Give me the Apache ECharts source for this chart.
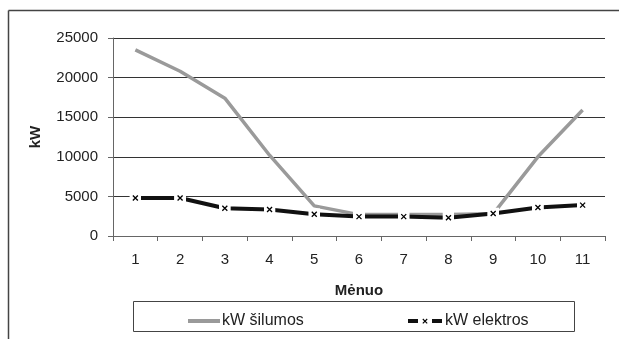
<!DOCTYPE html>
<html><head><meta charset="utf-8">
<script src="https://cdn.jsdelivr.net/npm/echarts@6/dist/echarts.min.js"></script>
<style>html,body{margin:0;padding:0;background:#fff}#c{width:619px;height:339px}</style>
</head><body><div id="c"></div>
<script>
const months = ['1','2','3','4','5','6','7','8','9','10','11'];
const silumos = [23500, 20800, 17400, 10200, 3800, 2700, 2700, 2700, 2800, 10000, 15900];
const elektros = [4800, 4800, 3500, 3350, 2750, 2450, 2450, 2300, 2850, 3600, 3900];
const yTicks = [0, 5000, 10000, 15000, 20000, 25000];

const enc = s => 'image://data:image/svg+xml;utf8,' + encodeURIComponent(s);
const xSvg = enc('<svg xmlns="http://www.w3.org/2000/svg" width="12" height="12"><rect width="12" height="12" fill="white"/><path d="M3.5 3.5L8.5 8.5M8.5 3.5L3.5 8.5" stroke="black" stroke-width="1.3"/></svg>');
const legSvg = enc('<svg xmlns="http://www.w3.org/2000/svg" width="34" height="10"><rect x="0" y="3" width="10" height="4" fill="#111"/><rect x="24" y="3" width="10" height="4" fill="#111"/><path d="M14.8 3L19.2 7.4M19.2 3L14.8 7.4" stroke="black" stroke-width="1.1"/></svg>');
const font = 'Liberation Sans, Arial, sans-serif';
const chart = echarts.init(document.getElementById('c'));
chart.setOption({
  animation: false,
  grid: {left: 113, right: 14, top: 38, bottom: 103},
  graphic: [
    {type:'line', shape:{x1:8.5,y1:10.5,x2:619,y2:10.5}, style:{stroke:'#444',lineWidth:1.5}},
    {type:'line', shape:{x1:8.5,y1:10.5,x2:8.5,y2:339}, style:{stroke:'#444',lineWidth:1.5}},
    {type:'rect', shape:{x:133.5,y:301.5,width:441,height:30}, style:{fill:'#fff',stroke:'#444',lineWidth:1}, z:0}
  ],
  legend: [
    {left: 183, top: 308, itemWidth: 32, itemHeight: 4, itemGap: 0,
     textStyle: {fontFamily: font, fontSize: 16, color: '#222', padding: [0,0,0,-3]},
     data: [{name: 'kW šilumos', icon: 'rect'}]},
    {left: 403, top: 308, itemWidth: 34, itemHeight: 10, itemGap: 0,
     textStyle: {fontFamily: font, fontSize: 16, color: '#222', padding: [0,0,0,-2]},
     data: [{name: 'kW elektros', icon: legSvg}]}
  ],
  xAxis: {
    type: 'category', data: months, boundaryGap: true,
    name: 'Mėnuo', nameLocation: 'middle', nameGap: 47,
    nameTextStyle: {fontFamily: font, fontSize: 15, fontWeight: 'bold', color: '#222'},
    axisLine: {lineStyle: {color: '#666', width: 1}},
    axisTick: {show: true, length: 5, inside: false, lineStyle: {color: '#666'}},
    axisLabel: {fontFamily: font, fontSize: 15, color: '#222', margin: 16}
  },
  yAxis: {
    type: 'value', min: 0, max: 25000, interval: 5000,
    name: 'kW', nameLocation: 'middle', nameGap: 70, nameRotate: 90,
    nameTextStyle: {fontFamily: font, fontSize: 15, fontWeight: 'bold', color: '#222'},
    axisLine: {show: true, lineStyle: {color: '#666', width: 1}},
    axisTick: {show: true, length: 5, lineStyle: {color: '#666'}},
    axisLabel: {fontFamily: font, fontSize: 15, color: '#222', margin: 15, formatter: v => String(v)},
    splitLine: {lineStyle: {color: '#333', width: 1}}
  },
  series: [
    {name: 'kW šilumos', type: 'line', data: silumos, showSymbol: false, symbol: 'none',
     lineStyle: {color: '#9a9a9a', width: 3.5}, itemStyle: {color: '#9a9a9a'}, z: 2},
    {name: 'kW elektros', type: 'line', data: elektros, symbol: xSvg, symbolSize: 12,
     lineStyle: {color: '#111', width: 4}, itemStyle: {color: '#111'}, z: 3}
  ]
});
</script></body></html>
